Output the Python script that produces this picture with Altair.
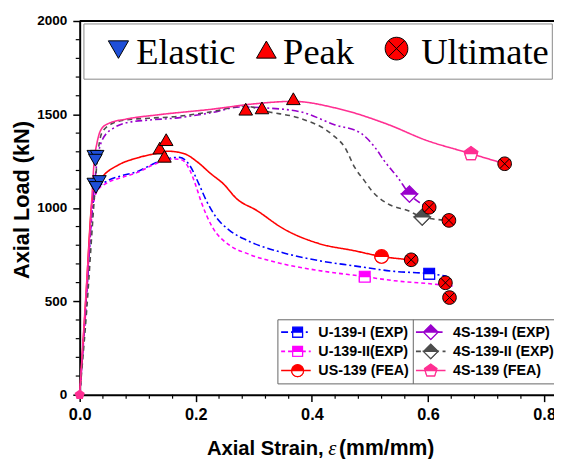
import altair as alt
import pandas as pd

# ---------------- data ----------------
SERIES = ["U-139-I (EXP)", "U-139-II(EXP)", "US-139 (FEA)",
          "4S-139-I (EXP)", "4S-139-II (EXP)", "4S-139 (FEA)"]
COLORS = ["#0000FF", "#FF00FF", "#FF0000", "#9900CC", "#4D4D4D", "#FF2F92"]
DASHES = [[7, 3, 2, 3], [4, 3], [1, 0], [7, 3, 2, 3, 2, 3], [5, 4], [1, 0]]

u1_x = [0, 0.01, 0.022, 0.03, 0.045, 0.07, 0.1, 0.13, 0.16, 0.172, 0.19, 0.205, 0.218, 0.235,
        0.258, 0.289, 0.35, 0.411, 0.472, 0.542, 0.602, 0.632]
u1_y = [0, 450, 1000, 1100, 1140, 1170, 1195, 1240, 1268, 1270, 1225, 1130, 1040, 950,
        880, 825, 760, 718, 690, 660, 648, 635]

u2_x = [0, 0.01, 0.022, 0.03, 0.045, 0.07, 0.1, 0.13, 0.16, 0.175, 0.19, 0.2, 0.209, 0.228,
        0.258, 0.289, 0.35, 0.411, 0.491, 0.542, 0.6, 0.644]
u2_y = [0, 430, 990, 1090, 1130, 1160, 1190, 1235, 1262, 1258, 1200, 1120, 1035, 900,
        800, 755, 700, 665, 632, 610, 595, 581]

us_x = [0, 0.01, 0.021, 0.028, 0.04, 0.067, 0.1, 0.13, 0.152, 0.18, 0.203, 0.225, 0.248,
        0.27, 0.305, 0.35, 0.411, 0.474, 0.52, 0.571]
us_y = [0, 480, 1030, 1120, 1170, 1230, 1268, 1290, 1303, 1290, 1245, 1185, 1127,
        1050, 986, 890, 810, 770, 740, 722]

s1_x = [0, 0.01, 0.022, 0.03, 0.04, 0.06, 0.08, 0.12, 0.163, 0.228, 0.276, 0.319, 0.38,
        0.44, 0.484, 0.509, 0.525, 0.548, 0.568, 0.602]
s1_y = [0, 450, 1000, 1250, 1370, 1430, 1455, 1470, 1480, 1510, 1540, 1535, 1514,
        1444, 1400, 1322, 1250, 1162, 1074, 1003]

s2_x = [0, 0.012, 0.024, 0.03, 0.038, 0.055, 0.078, 0.12, 0.163, 0.228, 0.283, 0.325, 0.38,
        0.435, 0.457, 0.474, 0.49, 0.503, 0.531, 0.565, 0.59, 0.636]
s2_y = [0, 450, 1000, 1250, 1400, 1450, 1470, 1480, 1488, 1515, 1545, 1514, 1479,
        1392, 1322, 1215, 1147, 1092, 1021, 986, 951, 933]

sf_x = [0, 0.01, 0.02, 0.025, 0.03, 0.037, 0.05, 0.08, 0.135, 0.228, 0.305, 0.368, 0.44,
        0.533, 0.594, 0.674, 0.732]
sf_y = [0, 500, 1000, 1250, 1350, 1420, 1452, 1475, 1498, 1528, 1558, 1570, 1535,
        1444, 1365, 1290, 1236]

# half-filled markers on each curve
mk_x = [0.602, 0.491, 0.52, 0.568, 0.59, 0.674]
mk_y = [648, 632, 740, 1074, 951, 1290]

# Elastic / Peak / Ultimate points
el_x = [0.0243, 0.03, 0.027, 0.0243, 0.034, 0.028]
el_y = [1276, 1276, 1255, 1127, 1141, 1109]
pk_x = [0.138, 0.149, 0.146, 0.286, 0.314, 0.368]
pk_y = [1320, 1365, 1276, 1528, 1535, 1584]
ul_x = [0.571, 0.602, 0.63, 0.636, 0.637, 0.732]
ul_y = [722, 1003, 599, 933, 520, 1236]

x_major = [0, 0.2, 0.4, 0.6, 0.8]
x_minor = [0.04, 0.08, 0.12, 0.16, 0.24, 0.28, 0.32, 0.36, 0.44, 0.48, 0.52, 0.56,
           0.64, 0.68, 0.72, 0.76]
y_major = [0, 500, 1000, 1500, 2000]
y_minor = [100, 200, 300, 400, 600, 700, 800, 900, 1100, 1200, 1300, 1400,
           1600, 1700, 1800, 1900]

# ---------------- tables ----------------
curves = [(u1_x, u1_y), (u2_x, u2_y), (us_x, us_y), (s1_x, s1_y), (s2_x, s2_y), (sf_x, sf_y)]
rows = []
for name, (xs, ys) in zip(SERIES, curves):
    for i, (a, b) in enumerate(zip(xs, ys)):
        rows.append({"series": name, "i": i, "x": a, "y": b})
lines_df = pd.DataFrame(rows)

mk_df = pd.DataFrame([{"series": n, "x": a, "y": b} for n, a, b in zip(SERIES, mk_x, mk_y)])
origin_df = pd.DataFrame({"x": [0.0], "y": [0.0]})

sp_rows = ([{"kind": "Elastic", "x": a, "y": b} for a, b in zip(el_x, el_y)] +
           [{"kind": "Peak", "x": a, "y": b} for a, b in zip(pk_x, pk_y)] +
           [{"kind": "Ultimate", "x": a, "y": b} for a, b in zip(ul_x, ul_y)])
sp_df = pd.DataFrame(sp_rows)

one = pd.DataFrame({"k": [0]})

# ---------------- styling ----------------
W, H = 481, 379
XMAX = 0.817
SANS = "Liberation Sans"
OTIMES = ("M-1,0A1,1,0,1,1,1,0A1,1,0,1,1,-1,0Z"
          "M-0.7071,-0.7071L0.7071,0.7071M-0.7071,0.7071L0.7071,-0.7071")
PENT = "M0,-1L0.951,-0.309L0.588,0.809L-0.588,0.809L-0.951,-0.309Z"
FULL = ["square", "square", "circle", "diamond", "diamond", PENT]
HALF = ["M-1,0L1,0L1,1L-1,1Z", "M-1,0L1,0L1,1L-1,1Z", "M-1,0A1,1,0,0,0,1,0Z",
        "M-1,0L0,1L1,0Z", "M-1,0L0,1L1,0Z", "M-0.851,0L0.851,0L0.588,0.809L-0.588,0.809Z"]
MSIZE = [120, 120, 190, 270, 270, 220]

xenc = alt.X("x:Q", scale=alt.Scale(domain=[0, XMAX], nice=False, zero=False),
             axis=alt.Axis(values=x_major, format=".1f", title=None, labelFont=SANS,
                           labelFontWeight="bold", labelFontSize=16.5, labelColor="black",
                           tickSize=7, tickWidth=1.5, tickColor="black", domainColor="black",
                           domainWidth=2, labelPadding=5, grid=False, labelFlush=False,
                           labelOverlap=False))
yenc = alt.Y("y:Q", scale=alt.Scale(domain=[0, 2000], nice=False),
             axis=alt.Axis(values=y_major, format="d", title=None, labelFont=SANS,
                           labelFontWeight="bold", labelFontSize=13.7, labelColor="black",
                           tickSize=7, tickWidth=1.5, tickColor="black", domainColor="black",
                           domainWidth=2, labelPadding=6, grid=False))

layers = []

lines = alt.Chart(lines_df).mark_line(interpolate="monotone", strokeWidth=1.6).encode(
    x=xenc, y=yenc,
    color=alt.Color("series:N", scale=alt.Scale(domain=SERIES, range=COLORS), legend=None),
    strokeDash=alt.StrokeDash("series:N", scale=alt.Scale(domain=SERIES, range=DASHES), legend=None),
    order=alt.Order("i:Q"),
)
layers.append(lines)

# minor ticks
layers.append(alt.Chart(pd.DataFrame({"x": x_minor})).mark_rule(color="black", strokeWidth=1.2)
              .encode(x="x:Q", y=alt.value(H), y2=alt.value(H + 4)))
layers.append(alt.Chart(pd.DataFrame({"y": y_minor})).mark_rule(color="black", strokeWidth=1.2)
              .encode(y="y:Q", x=alt.value(0), x2=alt.value(-4)))
# top frame
layers.append(alt.Chart(one).mark_rule(color="black", strokeWidth=2)
              .encode(x=alt.value(0), x2=alt.value(W + 5), y=alt.value(0)))

# small start marker at the origin
layers.append(alt.Chart(origin_df).mark_point(shape=PENT, filled=True, fill="#FF2F92",
                                              stroke="#FF2F92", size=70, opacity=1)
              .encode(x="x:Q", y="y:Q"))

# half-filled markers on curves
for name, col, full, half, s in zip(SERIES, COLORS, FULL, HALF, MSIZE):
    base = alt.Chart(mk_df).transform_filter(alt.datum.series == name)
    layers.append(base.mark_point(shape=full, filled=True, fill=col, stroke=col, strokeWidth=1.2,
                                  size=s, opacity=1).encode(x="x:Q", y="y:Q"))
    layers.append(base.mark_point(shape=half, filled=True, fill="white", stroke=col, strokeWidth=1.2,
                                  size=s, opacity=1).encode(x="x:Q", y="y:Q"))

# Elastic / Peak / Ultimate markers
KINDS = ["Elastic", "Peak", "Ultimate"]
KFILL = ["#1F4FD8", "#FF0000", "#FF0000"]
KSHAPE = ["triangle-down", "triangle-up", OTIMES]
layers.append(alt.Chart(sp_df).mark_point(filled=True, stroke="black", strokeWidth=1, size=190,
                                          opacity=1).encode(
    x="x:Q", y="y:Q",
    shape=alt.Shape("kind:N", scale=alt.Scale(domain=KINDS, range=KSHAPE), legend=None),
    fill=alt.Fill("kind:N", scale=alt.Scale(domain=KINDS, range=KFILL), legend=None),
))

# ---------------- top legend (Elastic / Peak / Ultimate) ----------------
layers.append(alt.Chart(one).mark_rect(fill="white", stroke="#888888", strokeWidth=1)
              .encode(x=alt.value(4.3), x2=alt.value(479.3), y=alt.value(3), y2=alt.value(59)))
top_sym_x = [39.3, 189.3, 321.3]
top_sym_y = [29, 29, 28]
top_sym_size = [420, 400, 530]
top_txt_x = [57.3, 206.3, 346.3]
for k, f, sh, sx, sy, ss, tx in zip(KINDS, KFILL, KSHAPE, top_sym_x, top_sym_y, top_sym_size, top_txt_x):
    layers.append(alt.Chart(one).mark_point(shape=sh, filled=True, fill=f, stroke="black",
                                            strokeWidth=1, size=ss, opacity=1)
                  .encode(x=alt.value(sx), y=alt.value(sy)))
    layers.append(alt.Chart(one).mark_text(text=k, font="Liberation Serif", fontSize=37,
                                           align="left", baseline="alphabetic", color="black")
                  .encode(x=alt.value(tx), y=alt.value(44)))

# ---------------- bottom legend ----------------
layers.append(alt.Chart(one).mark_rect(fill="white", stroke="#666666", strokeWidth=1)
              .encode(x=alt.value(201), x2=alt.value(540), y=alt.value(303), y2=alt.value(368)))
layers.append(alt.Chart(one).mark_rule(color="#666666", strokeWidth=1)
              .encode(x=alt.value(338.3), y=alt.value(303), y2=alt.value(368)))
LEG_SIZE = [100, 100, 150, 220, 220, 180]
row_y = [315.5, 335, 354.5]
col_line = [(204.3, 234.3, 221), (341, 371, 356)]
col_text = [242, 378.6]
for idx, (name, col, dash, full, half, s) in enumerate(zip(SERIES, COLORS, DASHES, FULL, HALF, LEG_SIZE)):
    c, r = divmod(idx, 3)
    x0, x1, xm = col_line[c]
    yy = row_y[r]
    layers.append(alt.Chart(one).mark_rule(color=col, strokeWidth=1.6, strokeDash=dash)
                  .encode(x=alt.value(x0), x2=alt.value(x1), y=alt.value(yy)))
    layers.append(alt.Chart(one).mark_point(shape=full, filled=True, fill=col, stroke=col,
                                            strokeWidth=1.2, size=s, opacity=1)
                  .encode(x=alt.value(xm), y=alt.value(yy)))
    layers.append(alt.Chart(one).mark_point(shape=half, filled=True, fill="white", stroke=col,
                                            strokeWidth=1.2, size=s, opacity=1)
                  .encode(x=alt.value(xm), y=alt.value(yy)))
    layers.append(alt.Chart(one).mark_text(text=name, font=SANS, fontWeight="bold", fontSize=14.5,
                                           align="left", baseline="middle", color="black")
                  .encode(x=alt.value(col_text[c]), y=alt.value(yy + 1)))

# ---------------- axis titles ----------------
layers.append(alt.Chart(one).mark_text(text="Axial Load (kN)", font=SANS, fontWeight="bold",
                                       fontSize=22, angle=270, align="center",
                                       baseline="alphabetic", color="black")
              .encode(x=alt.value(-51.7), y=alt.value(181.5)))
layers.append(alt.Chart(one).mark_text(text="Axial Strain,", font=SANS, fontWeight="bold",
                                       fontSize=20.5, align="left", baseline="alphabetic",
                                       color="black")
              .encode(x=alt.value(129), y=alt.value(440.5)))
layers.append(alt.Chart(one).mark_text(text="ε", font="Liberation Serif", fontStyle="italic",
                                       fontSize=21, align="left", baseline="alphabetic",
                                       color="black")
              .encode(x=alt.value(252), y=alt.value(440.5)))
layers.append(alt.Chart(one).mark_text(text="(mm/mm)", font=SANS, fontWeight="bold",
                                       fontSize=21.5, align="left", baseline="alphabetic",
                                       color="black")
              .encode(x=alt.value(263), y=alt.value(440.5)))

chart = alt.layer(*layers).properties(
    width=W, height=H,
    autosize=alt.AutoSizeParams(type="none"),
    padding={"left": 72.7, "top": 10, "right": 0, "bottom": 62},
    background="white",
).configure_view(stroke=None)

chart.save("out.html", embed_options={"renderer": "svg", "actions": False})
